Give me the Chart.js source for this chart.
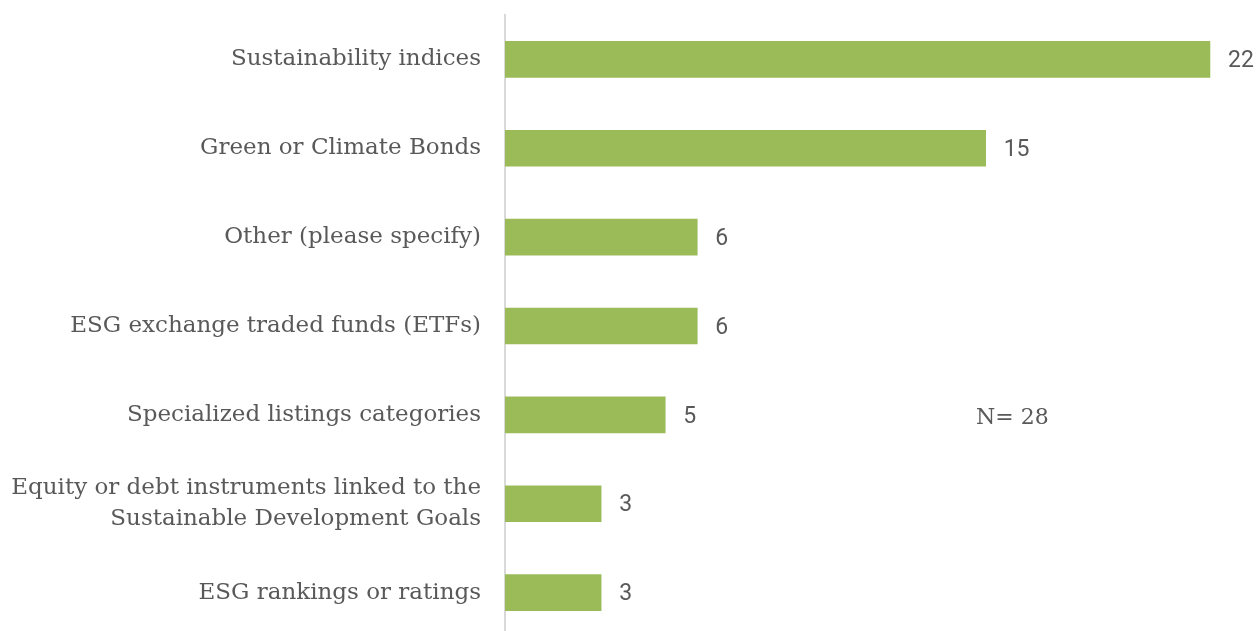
<!DOCTYPE html>
<html>
<head>
<meta charset="utf-8">
<script src="https://cdn.jsdelivr.net/npm/chart.js@4.4.1/dist/chart.umd.min.js"></script>
<style>
html,body{margin:0;padding:0;background:#fff;overflow:hidden;}
#wrap{width:1259px;height:631px;position:relative;overflow:hidden;}
</style>
</head>
<body>
<div id="wrap"><canvas id="c" width="1259" height="637"></canvas></div>
<script>
const categories = [
  "Sustainability indices",
  "Green or Climate Bonds",
  "Other (please specify)",
  "ESG exchange traded funds (ETFs)",
  "Specialized listings categories",
  ["Equity or debt instruments linked to the", "Sustainable Development Goals"],
  "ESG rankings or ratings"
];
const values = [22, 15, 6, 6, 5, 3, 3];
const noteText = "N= 28";

const labelFont = "'DejaVu Serif', 'Liberation Serif', serif";

const valueLabels = {
  id: 'valueLabels',
  afterDatasetsDraw(chart) {
    const ctx = chart.ctx;
    const meta = chart.getDatasetMeta(0);
    ctx.save();
    ctx.font = "23px Roboto, 'Liberation Sans', sans-serif";
    ctx.fillStyle = '#595959';
    ctx.textAlign = 'left';
    ctx.textBaseline = 'middle';
    meta.data.forEach((bar, i) => {
      ctx.fillText(String(values[i]), bar.x + 18, bar.y + 2);
    });
    const xs = chart.scales.x, ys = chart.scales.y;
    ctx.font = "22px " + labelFont;
    ctx.fillText(noteText, xs.getPixelForValue(14.7), ys.getPixelForValue(4) + 3);
    ctx.restore();
  }
};

new Chart(document.getElementById('c'), {
  type: 'bar',
  data: {
    labels: categories,
    datasets: [{
      data: values,
      backgroundColor: '#9bbb59',
      borderWidth: 0,
      barThickness: 36
    }]
  },
  options: {
    indexAxis: 'y',
    responsive: false,
    animation: false,
    layout: { padding: { top: 15, bottom: 0, left: 0, right: 17 } },
    plugins: { legend: { display: false }, tooltip: { enabled: false } },
    scales: {
      x: { display: false, min: 0, max: 23 },
      y: {
        afterFit(scale) { scale.width = 505; scale.paddingTop = 0; scale.paddingBottom = 0; },
        grid: { display: false, drawTicks: false },
        border: { display: true, color: '#d9d9d9', width: 2 },
        ticks: {
          padding: 24,
          color: '#595959',
          font: { family: labelFont, size: 23, lineHeight: 1.35 }
        }
      }
    }
  },
  plugins: [valueLabels]
});
</script>
</body>
</html>
